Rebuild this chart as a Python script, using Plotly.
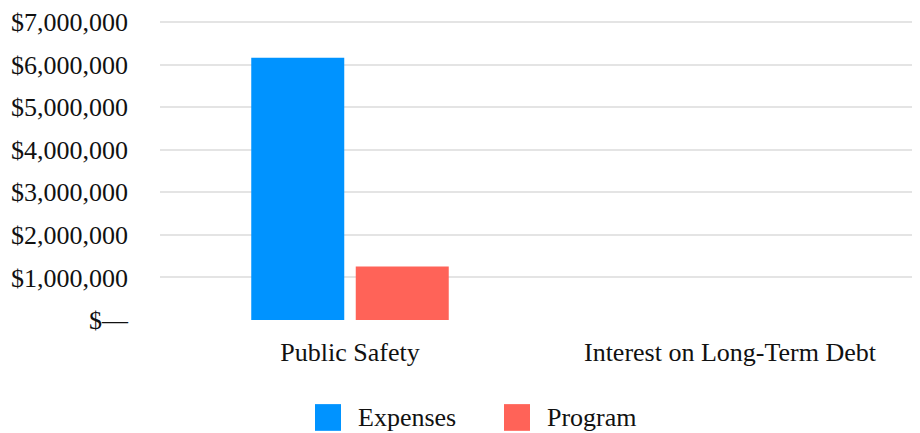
import plotly.graph_objects as go

categories = ["Public Safety", "Interest on Long-Term Debt"]
expenses = [6160000, 0]
program = [1255000, 0]
tick_vals = [0, 1000000, 2000000, 3000000, 4000000, 5000000, 6000000, 7000000]
tick_text = ["$\u2014", "$1,000,000", "$2,000,000", "$3,000,000", "$4,000,000",
             "$5,000,000", "$6,000,000", "$7,000,000"]
series_names = ["Expenses", "Program"]
colors = ["#0093FF", "#FF6358"]

FONT = "Liberation Serif"
FS = 26

# page body has an 8px margin: work in figure coordinates = reference - 8
OFF = 8
W, H = 920 - OFF, 433 - OFF
PL, PR = 160 - OFF, 920 - OFF          # plot left/right
Y0, Y7 = 320 - OFF, 19 - OFF            # pixel of $0 and $7M
YMAX = 7050000
px_per = (Y0 - Y7) / 7000000
PT = Y0 - YMAX * px_per
PW, PH = PR - PL, Y0 - PT

fig = go.Figure()
for name, vals, c in zip(series_names, [expenses, program], colors):
    fig.add_trace(go.Bar(x=categories, y=vals, name=name,
                         marker=dict(color=c, line=dict(width=0)),
                         showlegend=False))

fig.update_layout(
    width=W, height=H,
    margin=dict(l=PL, r=W - PR, t=PT, b=H - Y0, pad=0),
    paper_bgcolor="white", plot_bgcolor="white",
    font=dict(family=FONT, size=FS, color="#111111"),
    barmode="group", bargap=0.45, bargroupgap=0.11,
)
fig.update_yaxes(range=[0, YMAX], tickvals=tick_vals, ticktext=tick_text,
                 showgrid=True, gridcolor="#e4e4e4", gridwidth=2, zeroline=False,
                 showline=False, ticks="", ticklabelstandoff=31,
                 ticklabeloverflow="allow")
fig.update_xaxes(showgrid=False, showline=False, ticks="", ticklabelstandoff=14)

# custom legend (swatches + labels), reference pixel positions
legend_items = [(315, 341, 356), (504, 530, 545)]
sw_top, sw_bot, text_mid = 405, 432, 418.5
for (x0, x1, tx), name, c in zip(legend_items, series_names, colors):
    fig.add_shape(type="rect", xref="paper", yref="paper",
                  x0=(x0 - OFF - PL) / PW, x1=(x1 - OFF - PL) / PW,
                  y0=(Y0 - (sw_bot - OFF)) / PH, y1=(Y0 - (sw_top - OFF)) / PH,
                  fillcolor=c, line=dict(width=0))
    fig.add_annotation(xref="paper", yref="paper", x=(tx - OFF - PL) / PW,
                       y=(Y0 - (text_mid - OFF)) / PH,
                       text=name, showarrow=False, xanchor="left", yanchor="middle",
                       font=dict(family=FONT, size=FS, color="#111111"))

fig.write_html("out.html")
